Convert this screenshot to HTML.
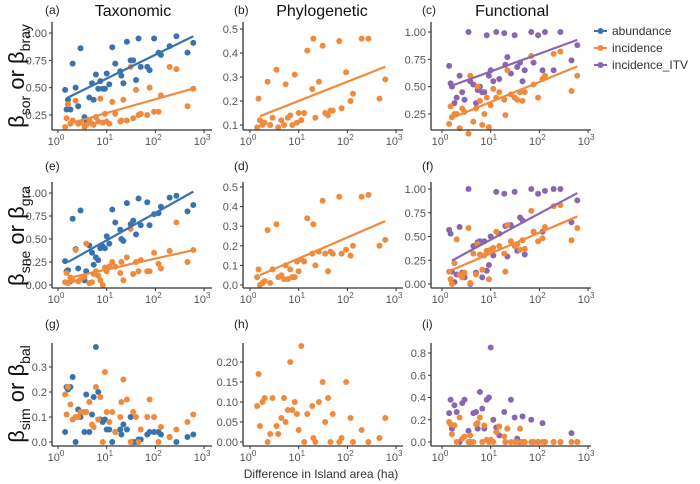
<!DOCTYPE html>
<html><head><meta charset="utf-8"><style>
body{margin:0;background:#fff}
svg{display:block;font-family:"Liberation Sans",sans-serif}
</style></head><body>
<svg id="chart" width="700" height="484" viewBox="0 0 700 484"></svg>
<script>
const X = [1.4,1.5,1.6,1.8,2.0,2.3,2.6,2.9,3.5,3.8,4.4,5.0,5.4,6.0,6.7,7.4,8.3,9.2,10,11.3,13,15,19,20,22,26,31,35,40,45,50,68,76,94,116,130,196,270,456,600];
const aBlue = [.48,.30,.39,.30,.72,.50,.33,.86,.23,.20,.41,.54,.39,.62,.49,.56,.49,.49,.63,.53,.87,.72,.65,.61,.54,.92,.75,.75,.57,.95,.69,.69,.66,.95,.82,.80,.88,.97,.82,.91];
const aOrange = [.14,.22,.35,.17,.20,.38,.17,.18,.14,.16,.20,.17,.16,.23,.19,.40,.18,.26,.19,.17,.37,.26,.19,.20,.39,.20,.69,.22,.48,.25,.26,.25,.50,.28,.28,.43,.69,.67,.33,.49];
const bOrange = [.09,.21,.12,.10,.11,.28,.10,.13,.33,.09,.12,.10,.27,.13,.14,.10,.31,.11,.15,.12,.15,.41,.25,.46,.13,.28,.43,.15,.14,.16,.16,.45,.17,.32,.20,.23,.46,.46,.21,.29];
const cPurple = [.69,.53,.50,.35,.40,.60,.45,.38,1.0,.55,.52,.35,.47,.50,.45,.45,.97,.60,.65,.55,1.0,.57,.99,.70,.77,.62,.97,.68,.72,.55,.65,1.0,.72,.97,.65,1.0,.65,1.0,.74,.88];
const cOrange = [.16,.32,.22,.25,.25,.12,.30,.27,.07,.60,.18,.30,.50,.37,.15,.25,.40,.13,.33,.48,.40,.45,.38,.24,.65,.43,.40,.38,.45,.37,.45,.78,.52,.40,.57,.60,.80,.82,.46,.60];
const eBlue = [.26,.15,.16,.04,.72,.39,.18,.81,.05,.15,.43,.35,.22,.30,.27,.40,.42,.40,.53,.45,.82,.68,.60,.50,.48,.89,.66,.70,.55,.94,.65,.90,.65,.77,.78,.85,.95,.97,.80,.87];
const eOrange = [.03,.13,.02,.08,.05,.38,.04,.06,.09,.45,.02,.03,.12,.15,.10,.05,.00,.19,.15,.20,.25,.20,.13,.25,.05,.30,.61,.12,.25,.15,.27,.15,.15,.35,.23,.18,.37,.68,.25,.38];
const dOrange = [.04,.08,.00,.01,.02,.28,.01,.08,.31,.04,.05,.03,.10,.03,.08,.04,.04,.12,.07,.13,.12,.34,.16,.31,.10,.17,.43,.16,.07,.17,.16,.45,.16,.18,.15,.20,.45,.46,.20,.23];
const fPurple = [.57,.53,.13,.02,.10,.60,.12,.07,1.0,.00,.40,.12,.44,.45,.07,.45,.14,.20,.50,.30,.97,.53,.95,.61,.29,.62,.97,.35,.70,.67,.31,1.0,.55,.95,.55,.98,1.0,1.0,.65,.88];
const fOrange = [.13,.05,.00,.22,.47,.10,.07,.12,.59,.01,.32,.10,.42,.31,.15,.30,.35,.05,.36,.38,.55,.40,.32,.13,.62,.45,.40,.42,.36,.46,.37,.77,.55,.45,.48,.60,.82,.83,.46,.59];
const gBlue = [.04,.22,.21,.22,.26,.00,.13,.10,.04,.19,.04,.11,.18,.38,.20,.09,.08,.09,.05,.05,.00,.04,.05,.03,.07,.05,.10,.00,.00,.01,.01,.03,.04,.04,.04,.03,.02,.00,.02,.03];
const gOrange = [.19,.11,.22,.15,.09,.10,.10,.12,.12,.12,.16,.07,.06,.22,.09,.18,.00,.28,.12,.08,.12,.04,.10,.16,.25,.17,.00,.12,.10,.00,.05,.10,.17,.10,.00,.06,.02,.05,.08,.11];
const hOrange = [.09,.17,.04,.10,.11,.00,.02,.11,.04,.02,.06,.11,.05,.08,.20,.08,.10,.07,.03,.24,.00,.07,.09,.01,.00,.10,.15,.05,.11,.00,.07,.00,.01,.15,.06,.00,.03,.00,.01,.06];
const iPurple = [.26,.38,.12,.33,.27,.00,.35,.38,.10,.00,.26,.27,.12,.45,.30,.12,.38,.40,.85,.20,.13,.06,.27,.00,.12,.38,.22,.03,.00,.23,.00,.20,.00,.00,.17,.00,.00,.00,.08,.00];
const iOrange = [.18,.16,.07,.15,.00,.22,.03,.05,.00,.06,.00,.16,.17,.22,.00,.15,.02,.00,.02,.00,.09,.14,.05,.00,.12,.00,.00,.00,.12,.00,.00,.00,.00,.00,.00,.00,.00,.00,.00,.00];
const xTickExp = ["0","1","2","3"];

const C = {abundance:"#3a72ad", incidence:"#f08a3c", itv:"#8a66b0"};
const NS = "http://www.w3.org/2000/svg";
const svg = document.getElementById("chart");
function mk(tag, attrs, parent){const e=document.createElementNS(NS,tag);for(const k in attrs)e.setAttribute(k,attrs[k]);(parent||svg).appendChild(e);return e;}

const colAxis=[52,243,431], col0=[58,250,442], dec=48.7;
const rowAxis=[130,288,446], rowTop=[22,182,343];
const panels=[
 {id:"a",r:0,c:0,v1:1,p1:33,v2:0.25,p2:115,ticks:[.25,.5,.75,1],fmt:2,series:[[aBlue,"abundance"],[aOrange,"incidence"]],fit:true},
 {id:"b",r:0,c:1,v1:.5,p1:29,v2:0.1,p2:125,ticks:[.1,.2,.3,.4,.5],fmt:1,series:[[bOrange,"incidence"]],fit:true},
 {id:"c",r:0,c:2,v1:1,p1:32,v2:0.25,p2:114,ticks:[.25,.5,.75,1],fmt:2,series:[[cPurple,"itv"],[cOrange,"incidence"]],fit:true},
 {id:"e",r:1,c:0,v1:1,p1:193,v2:0,p2:285,ticks:[0,.25,.5,.75,1],fmt:2,series:[[eBlue,"abundance"],[eOrange,"incidence"]],fit:true},
 {id:"d",r:1,c:1,v1:.5,p1:187,v2:0,p2:285,ticks:[0,.1,.2,.3,.4,.5],fmt:1,series:[[dOrange,"incidence"]],fit:true},
 {id:"f",r:1,c:2,v1:1,p1:189,v2:0,p2:284,ticks:[0,.25,.5,.75,1],fmt:2,series:[[fPurple,"itv"],[fOrange,"incidence"]],fit:true},
 {id:"g",r:2,c:0,v1:.3,p1:367,v2:0,p2:442,ticks:[0,.1,.2,.3],fmt:1,series:[[gBlue,"abundance"],[gOrange,"incidence"]],fit:false},
 {id:"h",r:2,c:1,v1:.2,p1:362,v2:0,p2:442,ticks:[0,.05,.1,.15,.2],fmt:2,series:[[hOrange,"incidence"]],fit:false},
 {id:"i",r:2,c:2,v1:.8,p1:353,v2:0,p2:442,ticks:[0,.2,.4,.6,.8],fmt:1,series:[[iPurple,"itv"],[iOrange,"incidence"]],fit:false}
];
panels.forEach(p=>{
  const g=mk("g",{});
  
  
  const xs=v=>col0[p.c]+Math.log10(v)*dec;
  const ys=v=>p.p1+(p.v1-v)/(p.v1-p.v2)*(p.p2-p.p1);
  const ax=colAxis[p.c], ay=rowAxis[p.r];
  // points
  p.series.forEach(([arr,key])=>{
    arr.forEach((v,i)=>{
      const d=mk("circle",{cx:xs(X[i]),cy:ys(v),r:3,fill:C[key]},g);
      
      
    });
  });
  if(p.fit){
    p.series.forEach(([arr,key])=>{
      const lx=X.map(Math.log10);const n=lx.length;
      const mx=lx.reduce((a,b)=>a+b)/n,my=arr.reduce((a,b)=>a+b)/n;
      let sxy=0,sxx=0;lx.forEach((x,i)=>{sxy+=(x-mx)*(arr[i]-my);sxx+=(x-mx)**2;});
      const b=sxy/sxx,a=my-b*mx;
      const x0=Math.log10(1.6),x1=Math.log10(600);
      const l=mk("line",{x1:col0[p.c]+x0*dec,y1:ys(a+b*x0),x2:col0[p.c]+x1*dec,y2:ys(a+b*x1),stroke:C[key],"stroke-width":2.2},g);
      
      
    });
  }
  // axes
  const yl=mk("line",{x1:ax,y1:rowTop[p.r],x2:ax,y2:ay,stroke:"#333","stroke-width":1.3},g);
  
  
  const xl=mk("line",{x1:ax,y1:ay,x2:ax+160,y2:ay,stroke:"#333","stroke-width":1.3},g);
  
  
  p.ticks.forEach(t=>{
    mk("line",{x1:ax-3,y1:ys(t),x2:ax,y2:ys(t),stroke:"#333"},g);
    const tx=mk("text",{x:ax-5,y:ys(t)+4,"text-anchor":"end","font-size":11,fill:"#555"},g);
    tx.textContent=t.toFixed(p.fmt);
    
    
  });
  xTickExp.forEach((e,k)=>{
    const x=col0[p.c]+k*dec;
    mk("line",{x1:x,y1:ay,x2:x,y2:ay+3,stroke:"#333"},g);
    const tx=mk("text",{x:x-2,y:ay+15,"text-anchor":"middle","font-size":11,fill:"#555"},g);
    tx.innerHTML='10<tspan dy="-5" font-size="8">'+e+'</tspan>';
    
    
  });
  const lab=mk("text",{x:[45,234,422][p.c],y:[14,170,328][p.r],"font-size":12,fill:"#222"},g);
  lab.textContent="("+p.id+")";
  
  
});
</script>
<svg width="0" height="0"></svg>
<script>
(function(){
const s=document.getElementById("chart");const NS="http://www.w3.org/2000/svg";
function t(x,y,size,txt,name,extra){const e=document.createElementNS(NS,"text");e.setAttribute("x",x);e.setAttribute("y",y);e.setAttribute("font-size",size);e.setAttribute("fill","#111");
if(extra)for(const k in extra)e.setAttribute(k,extra[k]);e.innerHTML=txt;s.appendChild(e);


return e;}
t(133,16,16,"Taxonomic","column-title-taxonomic",{"text-anchor":"middle"});
t(322,16,16,"Phylogenetic","column-title-phylogenetic",{"text-anchor":"middle"});
t(512,16,16,"Functional","column-title-functional",{"text-anchor":"middle"});
t(321,478,12,"Difference in Island area (ha)","x-axis-title",{"text-anchor":"middle",fill:"#333"});
const yt=[["sor","bray",76],["sne","gra",236],["sim","bal",394]];
yt.forEach(([a,b,cy])=>{
 t(0,0,22,'β<tspan dy="6" font-size="14">'+a+'</tspan><tspan dy="-6"> or β</tspan><tspan dy="6" font-size="14">'+b+'</tspan>',"y-axis-title-"+a,{"text-anchor":"middle",transform:"translate(24,"+cy+") rotate(-90)"});
});
const leg=[["abundance","#3a72ad",31],["incidence","#f08a3c",48],["incidence_ITV","#8a66b0",65]];
leg.forEach(([n,c,y])=>{
 const g=document.createElementNS(NS,"g");s.appendChild(g);
 
 
 g.innerHTML='<line x1="594" y1="'+y+'" x2="607" y2="'+y+'" stroke="'+c+'" stroke-width="2"/><circle cx="600.5" cy="'+y+'" r="3" fill="'+c+'"/><text x="612" y="'+(y+4)+'" font-size="12" fill="#333">'+n+'</text>';
});
})();
</script>
</body></html>
